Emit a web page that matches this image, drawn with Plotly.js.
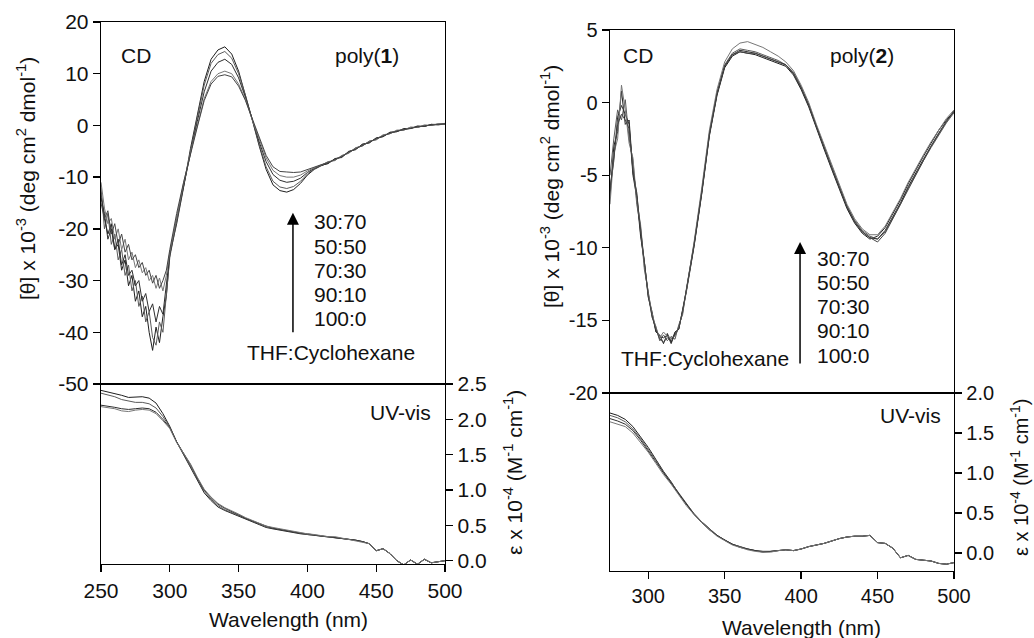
<!DOCTYPE html>
<html>
<head>
<meta charset="utf-8">
<script src="https://cdn.plot.ly/plotly-3.0.1.min.js"></script>
<style>html,body{margin:0;padding:0;background:#fff}#chart{width:1034px;height:638px}</style>
</head>
<body>
<div id="chart"></div>
<script>
// ---------- DATA ----------
const ratioLabels = ['30:70','50:50','70:30','90:10','100:0'];

// poly(1) CD
const cd1Wl = [250,252.5,255,257.5,260,262.5,265,267.5,270,272.5,275,277.5,280,282.5,285,287.5,290,292.5,295,297.5,300,
  305,310,315,320,325,330,335,340,345,350,355,360,365,370,375,380,385,390,395,400,405,410,
  415,420,425,430,435,440,445,450,455,460,465,470,475,480,485,490,495,500];
const cd1_100_0 = [-13,-18,-21,-19,-24,-23,-28,-26,-31,-29,-34,-32,-37,-35,-40,-43.5,-39,-42,-37,-33,-25,
  -19,-12,-4.5,2,8.5,12.8,14.6,15.2,13.8,10.5,6,1,-4,-8.5,-11.5,-12.6,-12.9,-12.4,-11.2,-9.6,-8.5,-7.8,
  -7.3,-6.5,-6.1,-5.1,-4.6,-3.7,-3.3,-2.5,-2.1,-1.4,-1.2,-0.7,-0.6,-0.2,-0.2,0.2,0.1,0.3];
const cd1_90_10 = [-12,-20,-17,-23,-21,-26,-24,-29,-27,-32,-30,-35,-33,-38,-36,-41,-42.5,-38,-40,-33,-25.5,
  -18.5,-11.8,-4.8,1.5,7.8,12,13.7,14.3,13,10,5.8,1,-3.7,-8,-10.8,-11.9,-12.2,-11.8,-10.8,-9.4,-8.4,-7.7,
  -7.0,-6.8,-5.8,-5.4,-4.3,-4.0,-3.0,-2.8,-1.9,-1.6,-1.0,-0.9,-0.4,-0.4,0.0,0.0,0.3,0.2];
const cd1_70_30 = [-14,-17,-22,-20,-24,-22,-27,-25,-29,-28,-31,-30,-34,-32.5,-36,-34.5,-38,-35,-36.5,-31,-25,
  -18,-11.5,-5,0.8,6.5,10.5,12.2,12.8,11.8,9.2,5.4,1,-3.2,-7,-9.5,-10.6,-11,-10.8,-10.2,-9.1,-8.3,-7.7,
  -7.4,-6.4,-6.2,-5.0,-4.7,-3.6,-3.4,-2.4,-2.2,-1.3,-1.2,-0.6,-0.6,-0.1,-0.2,0.2,0.2,0.4];
const cd1_50_50 = [-11,-16,-19,-18,-22,-20,-24,-22,-26,-24.5,-27.5,-26,-28.5,-27.5,-30,-29,-31.5,-29.5,-32,-29,-24.5,
  -17.5,-11.2,-5.3,0,5.2,8.5,10,10.5,10,8,5,1,-2.8,-6.3,-8.7,-9.7,-10,-10,-9.6,-8.8,-8.2,-7.6,
  -7.1,-6.7,-5.9,-5.3,-4.4,-3.9,-3.1,-2.7,-1.8,-1.6,-0.9,-0.9,-0.3,-0.4,0.1,0.0,0.3,0.3];
const cd1_30_70 = [-15,-18,-16.5,-21,-19,-23,-21,-24.5,-23,-26,-25,-27.5,-26.5,-29,-28,-30.5,-29,-31.5,-30,-28,-24,
  -17,-11,-5.5,-0.3,4.8,8,9.5,9.8,9.4,7.6,4.8,1.2,-2.5,-5.8,-8,-8.9,-9,-9.1,-9,-8.5,-8.1,-7.6,
  -7.2,-6.6,-6.0,-5.2,-4.5,-3.8,-3.2,-2.6,-2.0,-1.5,-1.1,-0.8,-0.5,-0.3,-0.1,0.1,0.2,0.3];

// poly(1) UV-vis
const uv1Wl = [250,255,260,265,270,275,280,285,290,295,300,305,310,315,320,325,330,335,340,345,350,
  355,360,365,370,375,380,385,390,395,400,405,410,415,420,425,430,435,440,445,450,
  455,460,465,470,475,480,485,490,495,500];
const uv1_a = [2.41,2.39,2.37,2.34,2.31,2.31,2.32,2.30,2.23,2.08,1.90,1.68,1.50,1.33,1.13,0.96,0.85,0.76,0.71,0.67,0.62,
  0.58,0.54,0.50,0.47,0.45,0.43,0.42,0.40,0.38,0.37,0.36,0.35,0.34,0.33,0.32,0.30,0.29,0.27,0.24,0.14,
  0.17,0.10,0.00,-0.06,0.01,-0.05,0.02,-0.03,-0.02,0.00];
const uv1_b = [2.37,2.35,2.32,2.28,2.26,2.24,2.24,2.22,2.16,2.04,1.89,1.68,1.51,1.34,1.15,0.98,0.87,0.78,0.72,0.68,0.63,
  0.59,0.55,0.51,0.48,0.46,0.44,0.42,0.40,0.38,0.37,0.36,0.35,0.34,0.33,0.32,0.30,0.29,0.27,0.24,0.14,
  0.17,0.10,0.00,-0.06,0.01,-0.05,0.02,-0.03,-0.02,0.00];
const uv1_c = [2.20,2.19,2.17,2.15,2.14,2.15,2.16,2.15,2.10,2.00,1.88,1.68,1.52,1.36,1.17,1.00,0.89,0.80,0.74,0.70,0.65,
  0.60,0.56,0.52,0.49,0.46,0.44,0.43,0.41,0.39,0.38,0.36,0.35,0.34,0.33,0.32,0.30,0.29,0.27,0.24,0.14,
  0.17,0.10,0.00,-0.06,0.01,-0.05,0.02,-0.03,-0.02,0.00];
const uv1_d = [2.18,2.17,2.15,2.12,2.11,2.13,2.14,2.13,2.08,1.98,1.87,1.67,1.52,1.37,1.18,1.01,0.90,0.81,0.75,0.71,0.66,
  0.61,0.57,0.53,0.49,0.47,0.45,0.43,0.41,0.39,0.38,0.37,0.35,0.34,0.34,0.32,0.30,0.29,0.27,0.24,0.14,
  0.17,0.10,0.00,-0.06,0.01,-0.05,0.02,-0.03,-0.02,0.00];

// poly(2) CD
const cd2Wl = [275,277.5,280,282.5,285,287.5,290,292.5,295,297.5,300,302.5,305,307.5,310,312.5,315,317.5,320,322.5,325,
  330,335,340,345,350,355,360,365,370,375,380,385,390,395,400,405,410,415,420,425,430,435,440,445,450,
  455,460,465,470,475,480,485,490,495,500];
const cd2_100_0 = [-6.5,-3,-2,0.8,-1.5,-1.2,-4.8,-6.2,-9,-11,-13.4,-14.4,-15.8,-16,-16.6,-15.9,-16.5,-15.8,-15.6,-14.2,-13,
  -9.9,-6.3,-2.3,0.5,2.4,3.2,3.5,3.4,3.3,3.1,2.9,2.7,2.5,1.9,0.9,-0.3,-1.8,-3.2,-4.6,-6.0,-7.3,-8.3,-9.0,-9.4,-9.2,
  -8.6,-7.7,-6.7,-5.6,-4.6,-3.7,-2.8,-1.9,-1.2,-0.6];
const cd2_90_10 = [-5,-2.5,-0.5,-1.2,0.2,-2.5,-4,-7,-8.6,-11.5,-13,-14.8,-15.4,-16.4,-16,-16.4,-16.1,-16.3,-15.3,-14.6,-12.8,
  -9.7,-6.1,-2.1,0.7,2.6,3.4,3.7,3.6,3.5,3.3,3.1,2.9,2.6,2.1,1.1,-0.1,-1.6,-3.0,-4.4,-5.8,-7.1,-8.1,-8.8,-9.2,-9.4,
  -8.9,-8.0,-7.0,-5.9,-4.9,-4.0,-3.1,-2.2,-1.4,-0.7];
const cd2_70_30 = [-6,-4,-1,-0.2,-0.8,-1.5,-5,-6.5,-9.2,-11,-13.2,-14.6,-15.7,-16.1,-16.2,-16.0,-16.6,-15.9,-15.6,-14.3,-12.9,
  -9.8,-6.2,-2.2,0.6,2.5,3.3,3.6,3.5,3.4,3.2,3.0,2.8,2.6,2.0,1.0,-0.2,-1.7,-3.1,-4.5,-5.9,-7.2,-8.2,-8.9,-9.3,-9.4,
  -8.8,-7.9,-6.9,-5.8,-4.8,-3.9,-3.0,-2.1,-1.3,-0.6];
const cd2_50_50 = [-7,-3.5,-2.5,1.2,-0.5,-2.8,-3.8,-6.8,-8.4,-11.3,-13.1,-14.5,-15.5,-16.2,-15.8,-16.1,-16.2,-16.1,-15.4,-14.5,-12.9,
  -9.6,-5.9,-1.9,0.9,2.8,3.7,4.1,4.2,4.0,3.8,3.5,3.2,2.8,2.2,1.2,0.0,-1.5,-2.9,-4.3,-5.7,-7.0,-8.0,-8.7,-9.1,-9.1,
  -8.5,-7.6,-6.6,-5.5,-4.5,-3.6,-2.7,-1.9,-1.1,-0.5];
const cd2_30_70 = [-6,-3.8,-1.5,-0.8,-1.2,-1.8,-4.6,-6.4,-8.8,-11.2,-13.3,-14.7,-15.6,-16.3,-16.5,-16.2,-16.3,-16,-15.5,-14.4,-12.9,
  -9.8,-6.2,-2.2,0.6,2.5,3.3,3.5,3.4,3.4,3.2,3.0,2.8,2.6,2.0,1.0,-0.2,-1.7,-3.1,-4.5,-5.9,-7.2,-8.2,-8.9,-9.3,-9.6,
  -9.0,-8.0,-7.0,-5.9,-4.9,-3.9,-3.0,-2.1,-1.3,-0.6];

// poly(2) UV-vis
const uv2Wl = [275,280,285,290,295,300,305,310,315,320,325,330,335,340,345,350,355,360,365,370,375,
  380,385,390,395,400,405,410,415,420,425,430,435,440,445,450,455,460,465,470,475,480,485,490,495,500];
const uv2_a = [1.75,1.72,1.67,1.58,1.45,1.32,1.17,1.02,0.89,0.74,0.61,0.49,0.39,0.30,0.22,0.16,0.11,0.08,0.05,0.03,0.02,
  0.02,0.03,0.04,0.03,0.05,0.08,0.10,0.12,0.15,0.18,0.20,0.21,0.21,0.22,0.13,0.12,0.06,-0.06,-0.03,-0.08,-0.09,-0.10,-0.13,-0.14,-0.12];
const uv2_b = [1.72,1.69,1.64,1.55,1.43,1.30,1.16,1.01,0.88,0.74,0.61,0.49,0.39,0.30,0.22,0.16,0.11,0.08,0.05,0.03,0.02,
  0.02,0.03,0.04,0.03,0.05,0.08,0.10,0.12,0.15,0.18,0.20,0.21,0.21,0.22,0.13,0.12,0.06,-0.06,-0.03,-0.08,-0.09,-0.10,-0.13,-0.14,-0.12];
const uv2_c = [1.68,1.65,1.61,1.53,1.41,1.28,1.14,1.00,0.87,0.73,0.60,0.48,0.38,0.29,0.22,0.16,0.11,0.07,0.05,0.03,0.01,
  0.02,0.03,0.04,0.03,0.05,0.08,0.10,0.12,0.15,0.18,0.20,0.21,0.21,0.22,0.13,0.12,0.06,-0.06,-0.03,-0.08,-0.09,-0.10,-0.13,-0.14,-0.12];
const uv2_d = [1.64,1.61,1.58,1.50,1.38,1.26,1.12,0.98,0.86,0.72,0.59,0.48,0.38,0.29,0.21,0.15,0.10,0.07,0.04,0.02,0.01,
  0.01,0.03,0.04,0.03,0.05,0.08,0.10,0.12,0.15,0.18,0.20,0.21,0.21,0.22,0.13,0.12,0.06,-0.06,-0.03,-0.08,-0.09,-0.10,-0.13,-0.14,-0.12];

// tick labels
const cd1TickVals = [20,10,0,-10,-20,-30,-40,-50];
const cd1TickText = ['20','10','0','-10','-20','-30','-40','-50'];
const cd2TickVals = [5,0,-5,-10,-15,-20];
const cd2TickText = ['5','0','-5','-10','-15','-20'];
const uv1TickVals = [0,0.5,1.0,1.5,2.0,2.5];
const uv1TickText = ['0.0','0.5','1.0','1.5','2.0','2.5'];
const uv2TickVals = [0,0.5,1.0,1.5,2.0];
const uv2TickText = ['0.0','0.5','1.0','1.5','2.0'];
const wl1TickVals = [250,300,350,400,450,500];
const wl2TickVals = [300,350,400,450,500];

// ---------- RENDER ----------
const W = 1034, H = 638;
const fx = p => p / W;
const fy = p => 1 - p / H;
const FONT = 'Liberation Sans, Arial, Helvetica, sans-serif';
const colors = ['#1e1e1e','#5a5a5a','#2e2e2e','#777777','#444444'];

const traces = [];
function addSeries(xs, ys, xa, ya, i) {
  traces.push({x: xs, y: ys, xaxis: xa, yaxis: ya, type: 'scatter', mode: 'lines',
    line: {color: colors[i % colors.length], width: 1}, hoverinfo: 'skip', showlegend: false});
}
[cd1_100_0, cd1_90_10, cd1_70_30, cd1_50_50, cd1_30_70].forEach((s, i) => addSeries(cd1Wl, s, 'x', 'y', i));
[uv1_a, uv1_b, uv1_c, uv1_d].forEach((s, i) => addSeries(uv1Wl, s, 'x2', 'y2', i));
[cd2_100_0, cd2_90_10, cd2_70_30, cd2_50_50, cd2_30_70].forEach((s, i) => addSeries(cd2Wl, s, 'x3', 'y3', i));
[uv2_a, uv2_b, uv2_c, uv2_d].forEach((s, i) => addSeries(uv2Wl, s, 'x4', 'y4', i));

const axBase = {showline: true, mirror: true, linecolor: '#000', linewidth: 1.3, showgrid: false,
  zeroline: false, tickcolor: '#000', tickwidth: 1.3, ticklen: 7, fixedrange: true};

const L = [101, 445], R = [610, 954];
const layout = {
  width: W, height: H, autosize: false,
  margin: {l: 0, r: 0, t: 0, b: 0, pad: 0},
  paper_bgcolor: '#fff', plot_bgcolor: 'rgba(0,0,0,0)',
  font: {family: FONT, size: 21, color: '#111'},
  showlegend: false,
  xaxis: Object.assign({}, axBase, {domain: [fx(L[0]), fx(L[1])], range: [250, 500], anchor: 'y',
    ticks: '', showticklabels: false}),
  yaxis: Object.assign({}, axBase, {domain: [fy(384), fy(22)], range: [-50, 20], anchor: 'x',
    ticks: 'outside', tickvals: cd1TickVals, ticktext: cd1TickText, tickfont: {size: 21}}),
  xaxis2: Object.assign({}, axBase, {domain: [fx(L[0]), fx(L[1])], range: [250, 500], anchor: 'y2',
    ticks: 'outside', tickvals: wl1TickVals, tickfont: {size: 21}}),
  yaxis2: Object.assign({}, axBase, {domain: [fy(564), fy(384)], range: [-0.047, 2.5], anchor: 'x2', side: 'right',
    ticks: 'outside', tickvals: uv1TickVals, ticktext: uv1TickText, tickfont: {size: 21}}),
  xaxis3: Object.assign({}, axBase, {domain: [fx(R[0]), fx(R[1])], range: [275, 500], anchor: 'y3',
    ticks: '', showticklabels: false}),
  yaxis3: Object.assign({}, axBase, {domain: [fy(393), fy(30)], range: [-20, 5], anchor: 'x3',
    ticks: 'outside', tickvals: cd2TickVals, ticktext: cd2TickText, tickfont: {size: 20}}),
  xaxis4: Object.assign({}, axBase, {domain: [fx(R[0]), fx(R[1])], range: [275, 500], anchor: 'y4',
    ticks: 'outside', tickvals: wl2TickVals, tickfont: {size: 20}}),
  yaxis4: Object.assign({}, axBase, {domain: [fy(571), fy(393)], range: [-0.225, 2.0], anchor: 'x4', side: 'right',
    ticks: 'outside', tickvals: uv2TickVals, ticktext: uv2TickText, tickfont: {size: 20}}),
  annotations: []
};

function txt(text, x, y, xanchor, opts) {
  layout.annotations.push(Object.assign({text: text, xref: 'paper', yref: 'paper', x: fx(x), y: fy(y),
    xanchor: xanchor || 'center', yanchor: 'middle', showarrow: false, font: {family: FONT, size: 21, color: '#111'}}, opts || {}));
}
const thetaTitle = '[θ] x 10<sup>-3</sup> (deg cm<sup>2</sup> dmol<sup>-1</sup>)';
const epsTitle = 'ε x 10<sup>-4</sup> (M<sup>-1</sup> cm<sup>-1</sup>)';

// left panel text
txt('CD', 136, 55);
txt('poly(<b>1</b>)', 367, 55);
ratioLabels.forEach((r, i) => txt(r, 312, 222 + i * 24, 'left'));
txt('THF:Cyclohexane', 331, 353);
txt('UV-vis', 433, 412, 'right');
txt(thetaTitle, 26, 179, 'center', {textangle: -90});
txt(epsTitle, 513, 473, 'center', {textangle: -90});
txt('Wavelength (nm)', 288, 619);

// right panel text
txt('CD', 638, 55);
txt('poly(<b>2</b>)', 862, 55);
ratioLabels.forEach((r, i) => txt(r, 815, 258 + i * 24.3, 'left'));
txt('THF:Cyclohexane', 705, 358);
txt('UV-vis', 943, 415, 'right');
txt(thetaTitle, 550, 187, 'center', {textangle: -90});
txt(epsTitle, 1019, 478, 'center', {textangle: -90, font: {family: FONT, size: 20, color: '#111'}});
txt('Wavelength (nm)', 801, 627);

// arrows
layout.annotations.push({text: '', xref: 'x', yref: 'y', x: 389.5, y: -16.9, axref: 'x', ayref: 'y', ax: 389.5, ay: -40.3,
  showarrow: true, arrowhead: 2, arrowsize: 1.6, arrowwidth: 1.5, arrowcolor: '#000', standoff: 0, startstandoff: 0});
layout.annotations.push({text: '', xref: 'x3', yref: 'y3', x: 399.3, y: -9.6, axref: 'x3', ayref: 'y3', ax: 399.3, ay: -18.07,
  showarrow: true, arrowhead: 2, arrowsize: 1.6, arrowwidth: 1.5, arrowcolor: '#000', standoff: 0, startstandoff: 0});

Plotly.newPlot('chart', traces, layout, {staticPlot: true, displayModeBar: false});
</script>
</body>
</html>
